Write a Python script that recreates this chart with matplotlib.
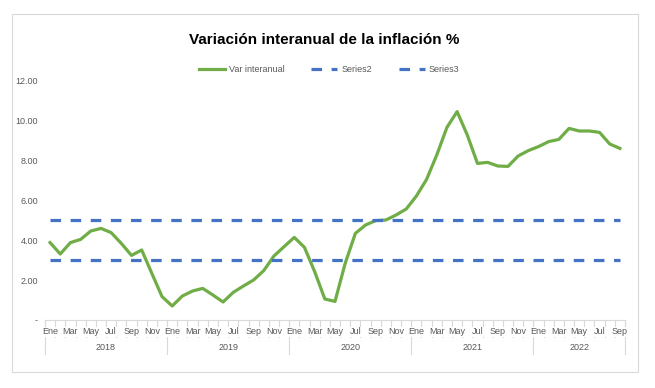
import matplotlib
matplotlib.use('Agg')
import matplotlib.pyplot as plt
from matplotlib.patches import Rectangle

plt.rcParams['font.family'] = ['Liberation Sans Narrow', 'Liberation Sans', 'DejaVu Sans']

# monthly data, Ene 2018 .. Sep 2022
monthNames = ['Ene', 'Feb', 'Mar', 'Abr', 'May', 'Jun', 'Jul', 'Ago', 'Sep', 'Oct', 'Nov', 'Dic']
years = ['2018', '2019', '2020', '2021', '2022']
monthsPerYear = [12, 12, 12, 12, 9]

varInteranual = [
    3.87, 3.30, 3.87, 4.03, 4.45, 4.58, 4.37, 3.83, 3.23, 3.50, 2.33, 1.17,
    0.70, 1.20, 1.45, 1.58, 1.25, 0.90, 1.38, 1.70, 2.00, 2.47, 3.20, 3.67,
    4.13, 3.63, 2.42, 1.05, 0.93, 2.83, 4.33, 4.75, 4.97, 5.00, 5.25, 5.55,
    6.20, 7.03, 8.25, 9.63, 10.42, 9.25, 7.83, 7.88, 7.70, 7.68, 8.20, 8.47,
    8.67, 8.92, 9.03, 9.58, 9.45, 9.45, 9.38, 8.80, 8.58,
]
series2 = [5.00] * len(varInteranual)
series3 = [3.00] * len(varInteranual)

yTicks = [0, 2, 4, 6, 8, 10, 12]

W, H = 655, 388
fig = plt.figure(figsize=(W / 100, H / 100), dpi=100)

# chart border
fig.patches.append(Rectangle((12 / W, 1 - 372 / H), 626 / W, 358 / H, transform=fig.transFigure,
                             fill=False, edgecolor='#d9d9d9', linewidth=0.8))

axLeft, axRight, axTop, axBottom = 45, 625, 80, 320
ax = fig.add_axes([axLeft / W, 1 - axBottom / H, (axRight - axLeft) / W, (axBottom - axTop) / H])

n = len(varInteranual)
xs = list(range(n))

green = '#70AD47'
blue = '#4472C4'
gray = '#595959'

ax.plot(xs, varInteranual, color=green, linewidth=2.3, label='Var interanual', solid_joinstyle='round')
ax.plot(xs, series2, color=blue, linewidth=2.3, dashes=(3.3, 3.0), label='Series2')
ax.plot(xs, series3, color=blue, linewidth=2.3, dashes=(3.3, 3.0), label='Series3')

ax.set_xlim(-0.5, n - 0.5)
ax.set_ylim(0, 12)
ax.set_yticks(yTicks)
ax.set_yticklabels(['-' if v == 0 else '%.2f' % v for v in yTicks], fontsize=6.5, color=gray)
ax.tick_params(axis='y', length=0, pad=5)

for side in ['left', 'right', 'top']:
    ax.spines[side].set_visible(False)
ax.spines['bottom'].set_color('#d9d9d9')
ax.spines['bottom'].set_linewidth(0.8)

trans = ax.get_xaxis_transform()
axH = axBottom - axTop
for k in range(n + 1):
    ax.plot([k - 0.5, k - 0.5], [0, -17 / axH], transform=trans, color='#d9d9d9',
            linewidth=0.8, clip_on=False, zorder=1)

# month labels (every other month)
i = 0
for y, cnt in zip(years, monthsPerYear):
    for m in range(cnt):
        if m % 2 == 0:
            ax.text(i, -12 / axH, monthNames[m], transform=trans, ha='center', va='center',
                    fontsize=6.5, color=gray, zorder=3,
                    bbox=dict(facecolor='white', edgecolor='none', pad=0.3))
        i += 1
ax.set_xticks([])

start = 0
bounds = [0]
for y, cnt in zip(years, monthsPerYear):
    center = start + (cnt - 1) / 2
    ax.text(center, -27 / axH, y, transform=trans, ha='center', va='center',
            fontsize=6.5, color=gray)
    start += cnt
    bounds.append(start)
for b in bounds:
    ax.plot([b - 0.5, b - 0.5], [0, -34 / axH], transform=trans, color='#d9d9d9',
            linewidth=0.8, clip_on=False)

fig.text(324 / W, 1 - 40 / H, 'Variación interanual de la inflación %', ha='center', va='center',
         fontsize=11, fontweight='bold', color='black')

fig.legend(loc='center', bbox_to_anchor=(329 / W, 1 - 70 / H), ncol=3, frameon=False,
           fontsize=6.5, labelcolor=gray, handlelength=2.9, columnspacing=3.0, handletextpad=0.4)

fig.savefig('out.png', dpi=100)
